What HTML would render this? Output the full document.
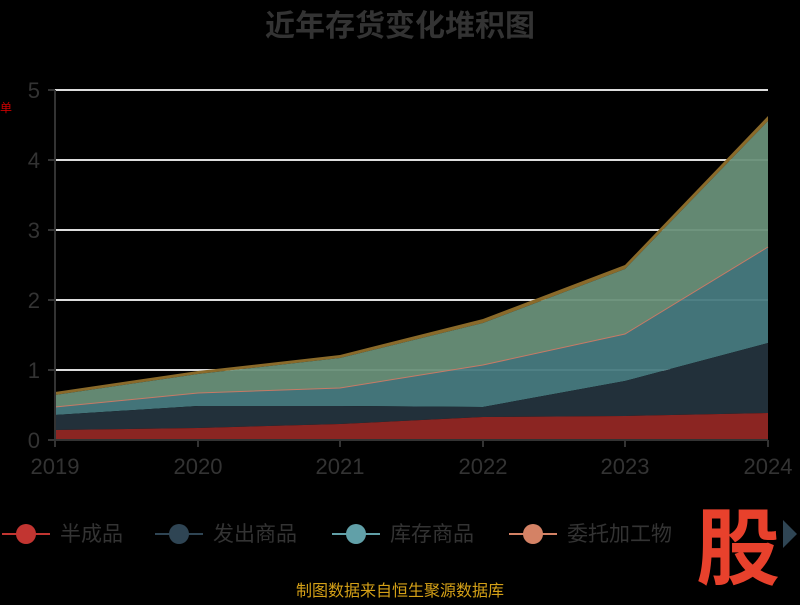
<!DOCTYPE html><html><head><style>body{margin:0;background:#000;}</style></head><body>
<svg width="800" height="600" xmlns="http://www.w3.org/2000/svg" style="font-family:'Liberation Sans','Noto Sans CJK SC',sans-serif">
<rect width="800" height="600" fill="#000"/>
<text x="400" y="36" text-anchor="middle" font-size="30" font-weight="bold" fill="#333">近年存货变化堆积图</text>
<g stroke="#ddd" stroke-width="2">
<line x1="55" y1="90" x2="768" y2="90"/><line x1="55" y1="160" x2="768" y2="160"/><line x1="55" y1="230" x2="768" y2="230"/><line x1="55" y1="300" x2="768" y2="300"/><line x1="55" y1="370" x2="768" y2="370"/>
</g>
<polygon fill="#8a6a2a" points="55,392 198,371 340,355 483,319 625,265 768,116 768,121 625,269 483,323 340,358 198,374 55,395"/>
<polygon fill="#688f78" fill-opacity="0.95" points="55,395 198,374 340,358 483,323 625,269 768,121 768,247 625,334 483,365 340,388 198,393 55,407"/>
<polygon fill="#477a80" fill-opacity="0.95" points="55,407 198,393 340,388 483,365 625,334 768,247 768,343 625,381 483,407 340,406 198,406 55,415"/>
<polyline fill="none" stroke="#c77a66" stroke-width="1" points="55,407 198,393 340,388 483,365 625,334 768,247"/>
<polygon fill="#22303a" points="55,415 198,406 340,406 483,407 625,381 768,343 768,413 625,416 483,417 340,424 198,428 55,430"/>
<polygon fill="#8b2522" points="55,430 198,428 340,424 483,417 625,416 768,413 768,440 55,440"/>
<g stroke="#333" stroke-width="2"><line x1="55" y1="90" x2="55" y2="440"/><line x1="48" y1="440" x2="768" y2="440"/>
<line x1="48" y1="90" x2="55" y2="90"/><line x1="48" y1="160" x2="55" y2="160"/><line x1="48" y1="230" x2="55" y2="230"/><line x1="48" y1="300" x2="55" y2="300"/><line x1="48" y1="370" x2="55" y2="370"/>
<line x1="55" y1="440" x2="55" y2="447"/><line x1="198" y1="440" x2="198" y2="447"/><line x1="340" y1="440" x2="340" y2="447"/><line x1="483" y1="440" x2="483" y2="447"/><line x1="625" y1="440" x2="625" y2="447"/><line x1="768" y1="440" x2="768" y2="447"/></g>
<g fill="#333" font-size="22" text-anchor="end"><text x="40" y="98">5</text><text x="40" y="168">4</text><text x="40" y="238">3</text><text x="40" y="308">2</text><text x="40" y="378">1</text><text x="40" y="448">0</text></g>
<g fill="#333" font-size="22" text-anchor="middle"><text x="55" y="474">2019</text><text x="198" y="474">2020</text><text x="340" y="474">2021</text><text x="483" y="474">2022</text><text x="625" y="474">2023</text><text x="768" y="474">2024</text></g>
<text x="0" y="112" font-size="12" fill="#c00">单</text>
<g font-size="21" fill="#333">
<line x1="2" y1="534" x2="50" y2="534" stroke="#c23531" stroke-width="2"/><circle cx="26" cy="534" r="10" fill="#c23531"/><text x="60" y="541">半成品</text>
<line x1="155" y1="534" x2="203" y2="534" stroke="#2f4554" stroke-width="2"/><circle cx="179" cy="534" r="10" fill="#2f4554"/><text x="213" y="541">发出商品</text>
<line x1="332" y1="534" x2="380" y2="534" stroke="#61a0a8" stroke-width="2"/><circle cx="356" cy="534" r="10" fill="#61a0a8"/><text x="390" y="541">库存商品</text>
<line x1="509" y1="534" x2="557" y2="534" stroke="#d48265" stroke-width="2"/><circle cx="533" cy="534" r="10" fill="#d48265"/><text x="567" y="541">委托加工物</text>
</g>
<polygon points="783,520 797,534 783,548" fill="#2f4554"/>
<text x="738" y="578" text-anchor="middle" font-size="84" font-weight="bold" fill="#e8412c">股</text>
<text x="400" y="596" text-anchor="middle" font-size="16" fill="#d4a017">制图数据来自恒生聚源数据库</text>
</svg></body></html>
